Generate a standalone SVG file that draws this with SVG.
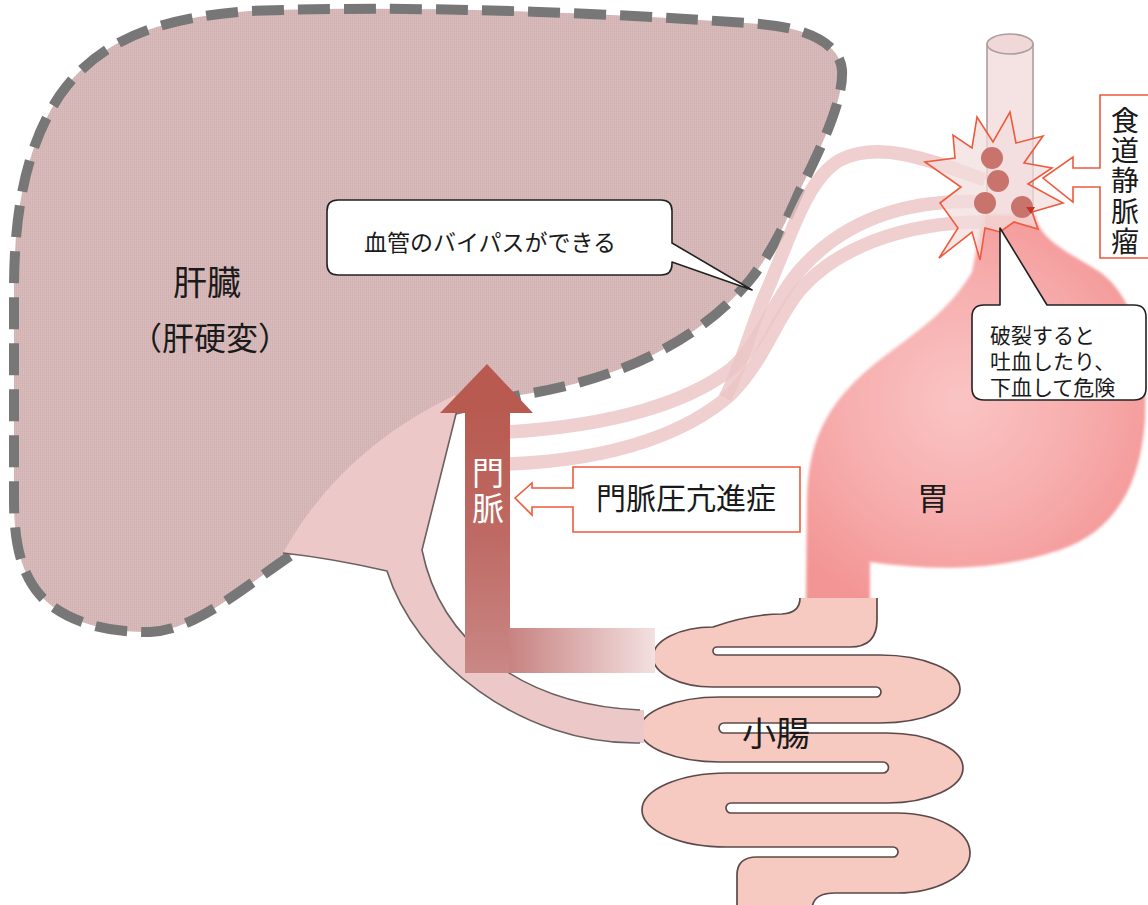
<svg xmlns="http://www.w3.org/2000/svg" width="1148" height="905" viewBox="0 0 1148 905">
  <defs>
    <!-- fine dotted texture of the cirrhotic liver -->
    <pattern id="liverTex" width="2" height="2" patternUnits="userSpaceOnUse">
      <rect width="2" height="2" fill="#dbbfbf"/>
      <rect width="1" height="2" fill="#d2b2b2"/>
      <rect x="1" y="1" width="1" height="1" fill="#d6b7b7"/>
    </pattern>
    <radialGradient id="stomachGrad" cx="960" cy="400" r="220" gradientUnits="userSpaceOnUse">
      <stop offset="0" stop-color="#fac4c4"/>
      <stop offset="0.55" stop-color="#f7adad"/>
      <stop offset="1" stop-color="#f39595"/>
    </radialGradient>
    <linearGradient id="shaftGrad" x1="0" y1="410" x2="0" y2="673" gradientUnits="userSpaceOnUse">
      <stop offset="0" stop-color="#b85a50"/>
      <stop offset="0.5" stop-color="#bf6b65"/>
      <stop offset="1" stop-color="#c98886"/>
    </linearGradient>
    <linearGradient id="legGrad" x1="505" y1="0" x2="655" y2="0" gradientUnits="userSpaceOnUse">
      <stop offset="0" stop-color="#c6807e"/>
      <stop offset="1" stop-color="#f3e0e0"/>
    </linearGradient>
    <filter id="soft" x="-5%" y="-5%" width="110%" height="110%">
      <feGaussianBlur stdDeviation="1.4"/>
    </filter>
  </defs>
  <style>
    .jp { font-family: "Noto Sans CJK JP", "Noto Sans", sans-serif; fill: #1a1a1a; }
    .white { fill: #ffffff; }
    .vein { fill: none; stroke: #ecc4c4; stroke-width: 13.5; opacity: 0.82; }
    .redline { fill: #ffffff; stroke: #ef5a3c; stroke-width: 1.6; }
    .bubble { fill: #ffffff; stroke: #222222; stroke-width: 1.6; stroke-linejoin: round; }
    .organline { fill: none; stroke: #6a6060; stroke-width: 1.6; }
    .varix { fill: #c9736d; }
  </style>

  <rect width="1148" height="905" fill="#ffffff"/>

  <!-- liver -->
  <g id="liver">
    <path d="M 290,556 C 240,590 195,630 150,632 C 100,633 60,618 40,595 C 20,572 14,540 14,500 L 14,290 C 14,200 30,140 60,95 C 95,45 150,18 250,11 C 400,5 600,12 760,24 C 810,28 840,45 842,70 C 844,100 820,150 800,190 C 785,225 770,255 750,280 C 700,340 620,380 520,395 L 455,410 Z" fill="url(#liverTex)"/>
    <path d="M 290,556 C 240,590 195,630 150,632 C 100,633 60,618 40,595 C 20,572 14,540 14,500 L 14,290 C 14,200 30,140 60,95 C 95,45 150,18 250,11 C 400,5 600,12 760,24 C 810,28 840,45 842,70 C 844,100 820,150 800,190 C 785,225 770,255 750,280 C 700,340 620,380 520,395 L 455,410" fill="none" stroke="#777777" stroke-width="10" stroke-dasharray="32 14"/>
    <text class="jp" x="207" y="295" font-size="34" text-anchor="middle">肝臓</text>
    <text class="jp" x="210" y="350" font-size="32" text-anchor="middle">（肝硬変）</text>
  </g>

  <!-- esophagus -->
  <g id="esophagus">
    <rect x="987" y="44" width="46" height="190" fill="#f5e2e2"/>
    <path d="M 987,44 L 987,232 M 1033,44 L 1033,220" fill="none" stroke="#ad9d9d" stroke-width="1.6"/>
    <ellipse cx="1010" cy="44" rx="23" ry="10" fill="#f0d8d8" stroke="#ad9d9d" stroke-width="1.6"/>
  </g>

  <!-- stomach -->
  <g id="stomach">
    <path d="M 983,215 L 1035,215 C 1040,240 1068,252 1100,272 C 1135,298 1148,350 1145,420 C 1140,490 1112,532 1060,550 C 1000,570 940,572 870,562 L 870,602 L 806,602 L 807,500 C 808,440 828,405 865,372 C 905,338 945,318 972,272 Z" fill="url(#stomachGrad)" filter="url(#soft)"/>
    <text class="jp" x="933" y="510" font-size="32" text-anchor="middle">胃</text>
  </g>

  <!-- collateral (bypass) veins -->
  <g id="connectors">
    <path class="vein" d="M 985,180 C 930,160 880,140 840,160 C 805,180 790,240 765,295 C 750,330 740,370 725,398"/>
    <path class="vein" d="M 985,202 C 900,198 840,225 800,270 C 770,305 760,345 730,370 C 690,400 620,425 507,432"/>
    <path class="vein" d="M 985,222 C 900,222 835,250 800,290 C 775,320 765,360 730,395 C 690,430 620,460 507,464"/>
  </g>

  <!-- esophageal varices -->
  <g id="varices">
    <polygon points="977,117 993,142 1010,112 1016,143 1043,136 1024,163 1052,168 1028,184 1063,203 1032,212 1038,229 1014,222 1000,232 985,228 980,260 972,232 939,258 958,228 940,203 961,187 925,162 955,158 953,135 972,148" fill="#f3dede" fill-opacity="0.72" stroke="#ef5a3c" stroke-width="1.6" stroke-linejoin="miter"/>
    <circle class="varix" cx="992" cy="158" r="11"/>
    <circle class="varix" cx="998" cy="181" r="11"/>
    <circle class="varix" cx="985" cy="203" r="11"/>
    <circle class="varix" cx="1022" cy="207" r="11"/>
    <polygon points="1026,207 1035,207 1031,214" fill="#c8302a"/>
  </g>

  <!-- small intestine -->
  <g id="small-intestine">
    <path d="M 877,598 L 877,620 Q 877,647 850,647 L 717,647 A 4 4 0 0 0 717,655 L 880,655 A 80 34 0 0 1 880,723 L 724,723 A 5 5 0 0 0 724,733 L 887,733 A 76 35 0 0 1 887,803 L 731,803 A 5 5 0 0 0 731,813 L 897,813 A 73 40 0 0 1 897,893 L 835,893 Q 812,893 812,910 L 737,910 L 737,875 Q 737,857 757,857 L 893,857 A 5 5 0 0 0 893,847 L 727,847 A 85 37 0 0 1 727,773 L 883,773 A 5.5 5.5 0 0 0 883,762 L 720,762 A 80 32.5 0 0 1 720,697 L 876,697 A 5 5 0 0 0 876,687 L 713,687 A 60 30 0 0 1 713,627 Q 750,614 782,614 Q 800,613 800,598" fill="#f6c9c1" stroke="#5c4a4a" stroke-width="1.7" stroke-linejoin="round"/>
    <text class="jp" x="776" y="746" font-size="34" text-anchor="middle">小腸</text>
  </g>

  <!-- splenic / mesenteric vein fan entering the liver -->
  <g id="mesenteric-vein">
    <path d="M 283,553 Q 340,450 455,395 L 457,410 L 422,550 C 440,640 520,705 640,710 L 644,710 L 644,743 L 640,743 C 520,745 415,660 387,571 Q 330,558 283,553 Z" fill="#ecc9c8"/>
    <path class="organline" d="M 283,553 Q 330,558 387,571 C 415,660 520,745 640,743 M 640,710 C 520,705 440,640 422,550 L 457,410"/>
  </g>

  <!-- portal vein arrow -->
  <g id="portal-vein">
    <rect x="465" y="410" width="45" height="263" fill="url(#shaftGrad)"/>
    <rect x="509" y="628" width="146" height="45" fill="url(#legGrad)"/>
    <polygon points="440,413 487,364 533,413" fill="#b85a50"/>
    <text class="jp white" x="488" y="457" font-size="32" writing-mode="vertical-rl" letter-spacing="3">門脈</text>
  </g>

  <!-- label: portal hypertension -->
  <g id="label-portal-hypertension">
    <path class="redline" d="M 573,467 L 800,467 L 800,532 L 573,532 L 573,507 L 532,507 L 532,515 L 515,498 L 532,483 L 532,488 L 573,488 Z"/>
    <text class="jp" x="686" y="509" font-size="30" text-anchor="middle">門脈圧亢進症</text>
  </g>

  <!-- label: esophageal varices -->
  <g id="label-varices">
    <path class="redline" d="M 1160,95 L 1100,95 L 1100,168 L 1073,168 L 1073,157 L 1043,178 L 1073,202 L 1073,187 L 1100,187 L 1100,258 L 1160,258"/>
    <text class="jp" x="1125" y="106" font-size="28" writing-mode="vertical-rl" letter-spacing="2.3">食道静脈瘤</text>
  </g>

  <!-- speech bubble: bypass -->
  <g id="bubble-bypass">
    <path class="bubble" d="M 338,200 L 661,200 Q 672,200 672,211 L 672,243 L 752,290 L 672,262 L 672,264 Q 672,275 661,275 L 338,275 Q 327,275 327,264 L 327,211 Q 327,200 338,200 Z"/>
    <text class="jp" x="490" y="251" font-size="23" text-anchor="middle">血管のバイパスができる</text>
  </g>

  <!-- speech bubble: rupture risk -->
  <g id="bubble-rupture">
    <path class="bubble" d="M 984,305 L 1000,305 L 1000,228 L 1047,305 L 1134,305 Q 1146,305 1146,317 L 1146,388 Q 1146,400 1134,400 L 984,400 Q 972,400 972,388 L 972,317 Q 972,305 984,305 Z"/>
    <text class="jp" x="990" y="343" font-size="21">破裂すると<tspan x="990" dy="26">吐血したり、</tspan><tspan x="990" dy="26">下血して危険</tspan></text>
  </g>
</svg>
